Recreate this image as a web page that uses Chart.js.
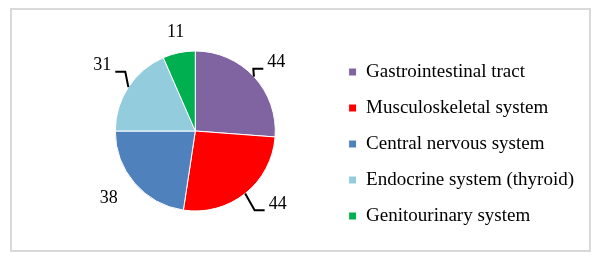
<!DOCTYPE html>
<html>
<head>
<meta charset="utf-8">
<script src="https://cdn.jsdelivr.net/npm/chart.js@4/dist/chart.umd.min.js"></script>
<style>
  html, body { margin: 0; padding: 0; background: #fff; }
  #wrap { position: relative; width: 602px; height: 264px; }
  #frame {
    position: absolute; left: 10px; top: 8px; width: 581px; height: 244px;
    border: 2px solid #d9d9d9; box-sizing: border-box;
  }
  #chart { position: absolute; left: 0; top: 0; }
</style>
</head>
<body>
<div id="wrap">
  <div id="frame"></div>
  <canvas id="chart" width="602" height="264"></canvas>
</div>
<script>
/* ============================================================
   Organ systems pie
   ============================================================ */

const categories = [
    'Gastrointestinal tract',
    'Musculoskeletal system',
    'Central nervous system',
    'Endocrine system (thyroid)',
    'Genitourinary system'
];
const counts = [44, 44, 38, 31, 11];
const sliceColors = ['#8064a2', '#ff0000', '#4f81bd', '#93cddd', '#00b050'];

// label placement tweaks (px) and which labels get a leader line
const labelNudge = [[3, 4], [16, -10], [-6, -2], [-4, -7], [2, 5]];
const labelLeader = [true, true, false, true, false];

const serif = '"Liberation Serif", "Times New Roman", serif';

const sliceLabels = {
    id: 'sliceLabels',
    afterDatasetsDraw(chart, args, opts) {
        const ctx = chart.ctx;
        const meta = chart.getDatasetMeta(0);
        const values = chart.data.datasets[0].data;
        ctx.save();
        ctx.font = opts.font;
        ctx.fillStyle = opts.color;
        ctx.strokeStyle = opts.color;
        ctx.lineWidth = opts.lineWidth;
        ctx.textAlign = 'center';
        ctx.textBaseline = 'middle';
        meta.data.forEach((arc, i) => {
            const p = arc.getProps(['x', 'y', 'startAngle', 'endAngle', 'outerRadius'], true);
            const mid = (p.startAngle + p.endAngle) / 2;
            const cos = Math.cos(mid), sin = Math.sin(mid);
            const nudge = opts.nudge[i] || [0, 0];
            const lx = p.x + cos * p.outerRadius * opts.distance + nudge[0];
            const ly = p.y + sin * p.outerRadius * opts.distance + nudge[1];
            const text = String(values[i]);
            ctx.fillText(text, lx, ly);
            if (opts.leaders[i]) {
                const w = ctx.measureText(text).width;
                const side = cos >= 0 ? -1 : 1;
                const hx = lx + side * (w / 2 + 4);
                const hy = ly + 6;
                ctx.beginPath();
                ctx.moveTo(hx, hy);
                ctx.lineTo(hx + side * 10, hy);
                ctx.lineTo(p.x + cos * p.outerRadius, p.y + sin * p.outerRadius);
                ctx.stroke();
            }
        });
        ctx.restore();
    }
};

new Chart(document.getElementById('chart'), {
    type: 'pie',
    data: {
        labels: categories,
        datasets: [{
            data: counts,
            backgroundColor: sliceColors,
            borderColor: '#ffffff',
            borderWidth: 1
        }]
    },
    options: {
        responsive: false,
        animation: false,
        radius: 80,
        layout: {
            padding: { left: 59, right: 18, top: 19.5, bottom: 21.5 }
        },
        plugins: {
            legend: {
                position: 'right',
                align: 'end',
                labels: {
                    color: '#000000',
                    font: { family: serif, size: 19 },
                    boxWidth: 8,
                    boxHeight: 8,
                    padding: 17
                }
            },
            tooltip: { enabled: false },
            sliceLabels: {
                font: '18px ' + serif,
                color: '#000000',
                lineWidth: 2,
                distance: 1.33,
                nudge: labelNudge,
                leaders: labelLeader
            }
        }
    },
    plugins: [sliceLabels]
});
</script>
</body>
</html>
